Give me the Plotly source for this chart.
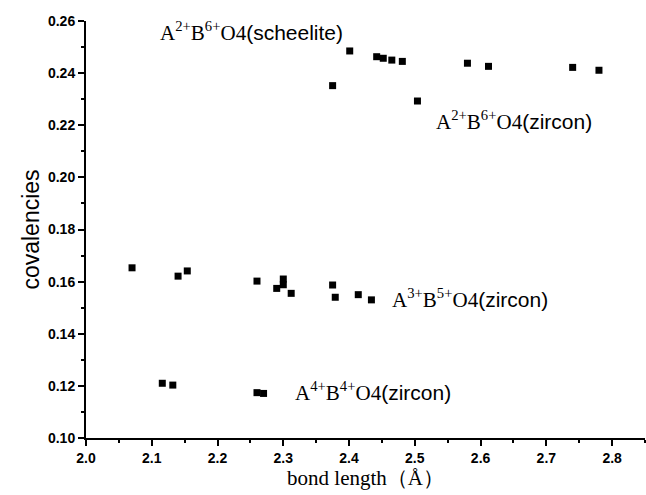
import plotly.graph_objects as go

# A2+B6+O4 (scheelite / zircon)
x_ab26 = [2.375, 2.401, 2.442, 2.452, 2.465, 2.481, 2.504, 2.580, 2.612, 2.740, 2.780]
y_ab26 = [0.2352, 0.2485, 0.2463, 0.2457, 0.2450, 0.2445, 0.2293, 0.2438, 0.2426, 0.2422, 0.2411]

# A3+B5+O4 (zircon)
x_ab35 = [2.070, 2.140, 2.154, 2.260, 2.290, 2.300, 2.300, 2.312, 2.375, 2.379, 2.414, 2.434]
y_ab35 = [0.1653, 0.1621, 0.1641, 0.1602, 0.1574, 0.1610, 0.1588, 0.1555, 0.1587, 0.1540, 0.1550, 0.1530]

# A4+B4+O4 (zircon)
x_ab44 = [2.116, 2.132, 2.260, 2.270]
y_ab44 = [0.1210, 0.1203, 0.1174, 0.1171]

labels = [
    "A<sup>2+</sup>B<sup>6+</sup>O4<span style='font-family:Liberation Sans, Arial'>(scheelite)</span>",
    "A<sup>2+</sup>B<sup>6+</sup>O4<span style='font-family:Liberation Sans, Arial'>(zircon)</span>",
    "A<sup>3+</sup>B<sup>5+</sup>O4<span style='font-family:Liberation Sans, Arial'>(zircon)</span>",
    "A<sup>4+</sup>B<sup>4+</sup>O4<span style='font-family:Liberation Sans, Arial'>(zircon)</span>",
]
label_x = [2.1095, 2.529, 2.4624, 2.3148]
label_y = [0.2560, 0.2220, 0.1535, 0.1178]

fig = go.Figure()
for xs, ys in [(x_ab26, y_ab26), (x_ab35, y_ab35), (x_ab44, y_ab44)]:
    fig.add_trace(go.Scatter(
        x=xs, y=ys, mode="markers",
        marker=dict(symbol="square", size=7, color="black", line=dict(width=0)),
        showlegend=False,
    ))

for t, lx, ly in zip(labels, label_x, label_y):
    fig.add_annotation(
        x=lx, y=ly, xref="x", yref="y", text=t, showarrow=False,
        xanchor="left", yanchor="middle",
        font=dict(family="Liberation Serif, Times New Roman, serif", size=21, color="black"),
    )

axis_common = dict(
    showline=True, linecolor="black", linewidth=2,
    ticks="outside", ticklen=6, tickwidth=2, tickcolor="black",
    showgrid=False, zeroline=False,
    tickfont=dict(family="Liberation Sans, Arial", size=14, color="black", weight="bold"),
)

fig.update_xaxes(
    range=[2.0, 2.85], tickvals=[2.0, 2.1, 2.2, 2.3, 2.4, 2.5, 2.6, 2.7, 2.8],
    ticktext=["2.0", "2.1", "2.2", "2.3", "2.4", "2.5", "2.6", "2.7", "2.8"],
    minor=dict(ticks="outside", ticklen=3, tickwidth=2, tickcolor="black", dtick=0.05, tick0=2.05, showgrid=False),
    title=dict(text="bond length（Å）", standoff=4,
               font=dict(family="Liberation Serif, Times New Roman, serif", size=21, color="black")),
    **axis_common,
)
fig.update_yaxes(
    range=[0.10, 0.26], tickvals=[0.10, 0.12, 0.14, 0.16, 0.18, 0.20, 0.22, 0.24, 0.26],
    ticktext=["0.10", "0.12", "0.14", "0.16", "0.18", "0.20", "0.22", "0.24", "0.26"],
    minor=dict(ticks="outside", ticklen=3, tickwidth=2, tickcolor="black", dtick=0.01, tick0=0.11, showgrid=False),
    title=dict(text="covalencies", standoff=2,
               font=dict(family="Liberation Sans, Arial", size=23, color="black")),
    **axis_common,
)

fig.update_layout(
    width=646, height=495,
    margin=dict(l=86, r=1, t=21, b=57),
    plot_bgcolor="white", paper_bgcolor="white",
)

fig.write_html("out.html")
